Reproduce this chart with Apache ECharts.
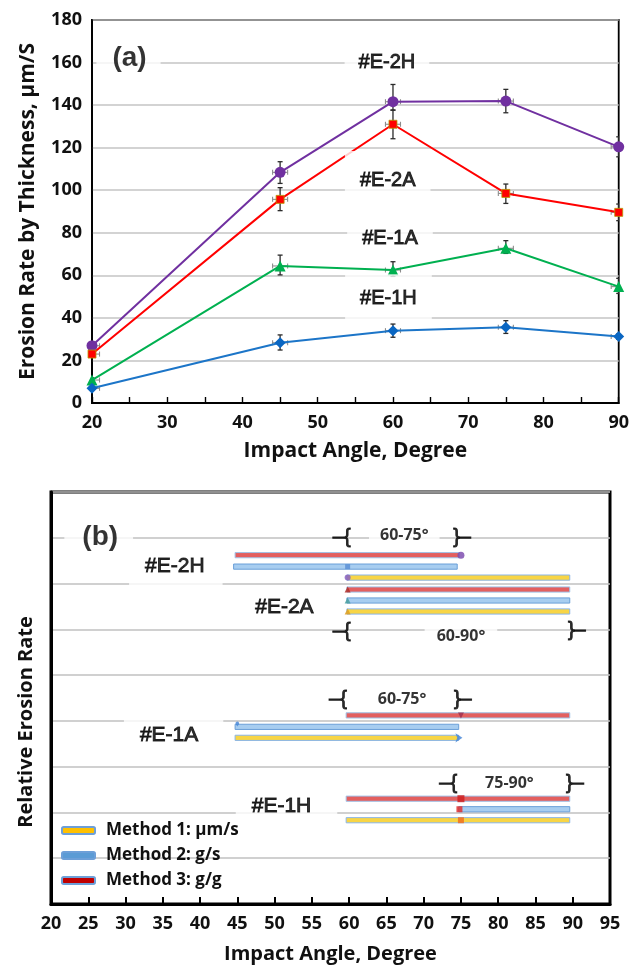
<!DOCTYPE html>
<html>
<head>
<meta charset="utf-8">
<script src="https://cdn.jsdelivr.net/npm/echarts@6/dist/echarts.min.js"></script>
<style>
    html, body { margin: 0; padding: 0; background: #fff; }
    #chart { width: 632px; height: 967px; }
</style>
</head>
<body>
<div id="chart"></div>
<script>
// (a) erosion rate by thickness, um/s
const angles = [20, 45, 60, 75, 90];
const e2h = [26.9, 108.4, 141.6, 141.9, 120.4];
const e2hLow = [25.5, 103.2, 137.6, 136.4, 115.7];
const e2hHigh = [28.3, 113.4, 149.7, 147.4, 125.1];
const e2a = [23.0, 95.7, 131.0, 98.5, 89.6];
const e2aLow = [21.8, 90.4, 124.2, 93.8, 85.7];
const e2aHigh = [24.2, 101.2, 137.7, 102.9, 93.5];
const e1a = [10.8, 64.4, 62.5, 72.7, 54.7];
const e1aLow = [9.8, 60.2, 59.5, 70.3, 51.5];
const e1aHigh = [11.8, 69.5, 66.4, 76.3, 58.6];
const e1h = [6.9, 28.3, 34.0, 35.6, 31.2];
const e1hLow = [6.0, 24.9, 30.9, 32.7, 29.9];
const e1hHigh = [7.8, 32.0, 37.1, 38.7, 32.5];
const angleErr = 1.0;

const labelsA = ['(a)', '#E-2H', '#E-2A', '#E-1A', '#E-1H'];
const labelsAPos = [[24.85, 162.1], [59.2, 159.8], [59.3, 104.8], [59.6, 77.5], [59.4, 49.2]];

// (b) relative erosion rate ranges: [from, to, row]
const method1 = [[59.7, 89.6, 7.13], [59.7, 89.6, 6.39], [44.7, 74.7, 3.63], [59.6, 89.6, 1.83]];
const method2 = [[44.5, 74.5, 7.37], [59.7, 89.6, 6.63], [44.7, 74.7, 3.87], [74.7, 89.6, 2.07]];
const method3 = [[44.7, 74.8, 7.62], [59.7, 89.6, 6.87], [59.6, 89.6, 4.12], [59.6, 89.6, 2.30]];
const methodNames = ['Method 1: μm/s', 'Method 2: g/s', 'Method 3: g/g'];
const markerPts = [[75, 7.62], [59.8, 7.37], [59.8, 7.13], [59.8, 6.87], [59.8, 6.63], [59.8, 6.39],
    [75, 4.12], [45, 3.87], [75.2, 3.63], [75, 2.30], [74.8, 2.07], [75, 1.83]];

const labelsB = ['(b)', '#E-2H', '#E-2A', '#E-1A', '#E-1H'];
const labelsBPos = [[26.4, 8.02], [36.75, 7.37], [51.85, 6.49], [36.45, 3.69], [51.6, 2.14]];
const rangeTexts = ['60-75°', '60-90°', '60-75°', '75-90°'];
const rangeTextPos = [[67.4, 8.06], [75.0, 5.84], [67.1, 4.46], [81.5, 2.64]];
const bracketL = [[59.0, 8.0], [59.0, 5.96], [58.5, 4.46], [73.3, 2.64]];
const bracketR = [[75.15, 8.0], [90.55, 5.98], [75.25, 4.46], [90.3, 2.64]];

const xTicksB = [20, 95, 5];
const yRowsB = [0, 9, 1];

const FONT = 'Open Sans';
const LABEL_FONT = 'Liberation Sans';

const labelsAPad = [[8, 14, 8, 16], [5, 14], [19, 15], [13, 15], [14, 15]];
const labelsBPad = [[8, 15, 8, 18], [8, 18, 8, 16], [15, 24, 4, 16], [6, 25, 6, 16], [4, 26, 4, 16]];
const rangePad = [[3, 11], [3, 12], [3, 8], [3, 8]];
const markerStyle = [
    ['circle', '#7f4fb0', 7, 0], ['rect', '#5b8fd6', 5, 0], ['circle', '#8a63c0', 6, 0],
    ['triangle', '#b0302a', 6, 0], ['triangle', '#4aa0a0', 6, 0], ['triangle', '#e0a020', 6, 0],
    ['triangle', '#a03050', 6, 180], ['pin', '#4a88d8', 6, 0], ['arrow', '#4a88d8', 7, -90],
    ['rect', '#d02020', 7, 0], ['rect', '#e03030', 6, 0], ['rect', '#f07020', 6, 0]
];

function pairs(ys) {
    return angles.map((a, i) => [a, ys[i]]);
}

function errData(ys, lo, hi) {
    return angles.map((a, i) => [a, ys[i], lo[i], hi[i]]);
}

function renderErr(params, api) {
    const x = api.value(0);
    const y = api.value(1);
    const top = api.coord([x, api.value(3)]);
    const bot = api.coord([x, api.value(2)]);
    const l = api.coord([x - angleErr, y]);
    const r = api.coord([x + angleErr, y]);
    const vs = { stroke: '#2b2b2b', lineWidth: 1.3 };
    const hs = { stroke: '#8c8c8c', lineWidth: 1.1 };
    return {
        type: 'group',
        children: [
            { type: 'line', shape: { x1: top[0], y1: top[1], x2: bot[0], y2: bot[1] }, style: vs },
            { type: 'line', shape: { x1: top[0] - 2.5, y1: top[1], x2: top[0] + 2.5, y2: top[1] }, style: vs },
            { type: 'line', shape: { x1: bot[0] - 2.5, y1: bot[1], x2: bot[0] + 2.5, y2: bot[1] }, style: vs },
            { type: 'line', shape: { x1: l[0], y1: l[1], x2: r[0], y2: r[1] }, style: hs },
            { type: 'line', shape: { x1: l[0], y1: l[1] - 2.5, x2: l[0], y2: l[1] + 2.5 }, style: hs },
            { type: 'line', shape: { x1: r[0], y1: r[1] - 2.5, x2: r[0], y2: r[1] + 2.5 }, style: hs }
        ]
    };
}

function barRenderer(fill, stroke) {
    return function (params, api) {
        const s = api.coord([api.value(0), api.value(2)]);
        const e = api.coord([api.value(1), api.value(2)]);
        return {
            type: 'rect',
            shape: { x: s[0], y: s[1] - 2.6, width: e[0] - s[0], height: 5.2 },
            style: { fill: fill, stroke: stroke, lineWidth: 1 }
        };
    };
}

function lineSeries(name, ys, color, symbol, size, extra) {
    return Object.assign({
        name: name,
        type: 'line',
        xAxisIndex: 0,
        yAxisIndex: 0,
        data: pairs(ys),
        symbol: symbol,
        symbolSize: size,
        z: 3,
        lineStyle: { color: color, width: 2 },
        itemStyle: { color: color },
        emphasis: { disabled: true }
    }, extra || {});
}

function errSeries(ys, lo, hi) {
    return {
        type: 'custom',
        xAxisIndex: 0,
        yAxisIndex: 0,
        data: errData(ys, lo, hi),
        renderItem: renderErr,
        clip: true,
        z: 2,
        silent: true
    };
}

function textSeries(xIdx, pts, texts, pads, font, size, weight, bg, z) {
    return {
        type: 'scatter',
        xAxisIndex: xIdx,
        yAxisIndex: xIdx,
        symbolSize: 1,
        itemStyle: { color: 'rgba(0,0,0,0)' },
        silent: true,
        z: z,
        data: pts.map((p, i) => {
            const paren = texts[i].charAt(0) === '(';
            return {
                value: p,
                name: texts[i],
                label: {
                    show: true,
                    position: 'inside',
                    formatter: '{b}',
                    color: '#000',
                    fontFamily: paren ? 'Liberation Sans' : font,
                    fontWeight: paren ? 'bold' : weight,
                    fontSize: paren ? 28 : size,
                    textBorderColor: '#000',
                    textBorderWidth: paren || font === FONT ? 0 : 0.9,
                    backgroundColor: bg,
                    padding: pads ? pads[i] : 0
                }
            };
        })
    };
}

const chart = echarts.init(document.getElementById('chart'), null, { renderer: 'canvas' });

const tickLabel = { color: '#111', fontFamily: FONT, fontWeight: 'bold', fontSize: 18 };
const axisName = { color: '#111', fontFamily: FONT, fontWeight: 'bold', fontSize: 21 };

const option = {
    animation: false,
    backgroundColor: '#fff',
    grid: [
        { left: 92, top: 20, width: 527, height: 383, show: true, borderColor: '#000', borderWidth: 1.8 },
        { left: 51, top: 492, width: 559, height: 412, show: true, borderColor: '#000', borderWidth: 3 }
    ],
    xAxis: [
        {
            type: 'value', gridIndex: 0, min: 20, max: 90, interval: 10,
            name: 'Impact Angle, Degree', nameLocation: 'middle', nameGap: 38, nameTextStyle: axisName,
            axisLine: { lineStyle: { color: '#000', width: 1.8 } },
            axisTick: { inside: true, length: 6, lineStyle: { color: '#000', width: 1.4 } },
            minorTick: { show: true, splitNumber: 2, length: 6, lineStyle: { color: '#000', width: 1.4 } },
            splitLine: { show: false },
            axisLabel: Object.assign({ margin: 11 }, tickLabel)
        },
        {
            type: 'value', gridIndex: 1, min: xTicksB[0], max: xTicksB[1], interval: xTicksB[2],
            name: 'Impact Angle, Degree', nameLocation: 'middle', nameGap: 40,
            nameTextStyle: Object.assign({}, axisName, { fontSize: 20 }),
            axisLine: { lineStyle: { color: '#000', width: 3 } },
            axisTick: { inside: true, length: 7, lineStyle: { color: '#000', width: 2 } },
            splitLine: { show: false },
            axisLabel: Object.assign({ margin: 11 }, tickLabel)
        }
    ],
    yAxis: [
        {
            type: 'value', gridIndex: 0, min: 0, max: 180, interval: 20,
            name: 'Erosion Rate by Thickness, μm/S', nameLocation: 'middle', nameGap: 53, nameTextStyle: axisName,
            axisLine: { show: true, lineStyle: { color: '#000', width: 1.8 } },
            axisTick: { show: false },
            splitLine: { show: true, lineStyle: { color: '#c4c4c4', width: 1.5 } },
            axisLabel: Object.assign({ margin: 10 }, tickLabel)
        },
        {
            type: 'value', gridIndex: 1, min: yRowsB[0], max: yRowsB[1], interval: yRowsB[2],
            axisLine: { show: true, lineStyle: { color: '#000', width: 3 } },
            axisTick: { show: false },
            axisLabel: { show: false },
            splitLine: { show: true, lineStyle: { color: '#c0c0c0', width: 1.5 } }
        }
    ],
    legend: {
        orient: 'vertical',
        left: 61,
        top: 822,
        padding: 0,
        itemWidth: 33,
        itemHeight: 7,
        itemGap: 8,
        icon: 'roundRect',
        data: methodNames,
        textStyle: { color: '#111', fontFamily: FONT, fontWeight: 'bold', fontSize: 17, padding: [0, 0, 0, 6] }
    },
    graphic: [
        {
            type: 'text', x: 26, y: 722, rotation: Math.PI / 2,
            style: {
                text: 'Relative Erosion Rate', fill: '#111', align: 'center', verticalAlign: 'middle',
                font: 'bold 20px "Open Sans"'
            }
        }
    ],
    series: [
        errSeries(e2h, e2hLow, e2hHigh),
        errSeries(e2a, e2aLow, e2aHigh),
        errSeries(e1a, e1aLow, e1aHigh),
        errSeries(e1h, e1hLow, e1hHigh),
        lineSeries('#E-2H', e2h, '#7030a0', 'circle', 11),
        lineSeries('#E-2A', e2a, '#ff0000', 'rect', 8, {
            itemStyle: { color: '#ff0000', borderColor: '#b89a00', borderWidth: 0.8 }
        }),
        lineSeries('#E-1A', e1a, '#00b050', 'triangle', 11),
        lineSeries('#E-1H', e1h, '#1c75c8', 'diamond', 11, { itemStyle: { color: '#0a66c2' } }),
        textSeries(0, labelsAPos, labelsA, labelsAPad, LABEL_FONT, 20, 'normal', '#fff', 4),

        textSeries(1, labelsBPos, labelsB, labelsBPad, LABEL_FONT, 21, 'normal', '#fff', 2),
        textSeries(1, rangeTextPos, rangeTexts, rangePad, FONT, 16, 'bold', '#fff', 2),
        textSeries(1, bracketL, bracketL.map(() => '‒{'), null, LABEL_FONT, 20, 'normal', null, 3),
        textSeries(1, bracketR, bracketR.map(() => '}‒'), null, LABEL_FONT, 20, 'normal', null, 3),
        {
            name: methodNames[0], type: 'custom', xAxisIndex: 1, yAxisIndex: 1, z: 3,
            itemStyle: { color: '#ffc000', borderColor: '#6d9fd8', borderWidth: 1 },
            renderItem: barRenderer('#f8d545', '#8ab5e6'), data: method1
        },
        {
            name: methodNames[1], type: 'custom', xAxisIndex: 1, yAxisIndex: 1, z: 3,
            itemStyle: { color: '#5b9bd5', borderColor: '#6d9fd8', borderWidth: 1 },
            renderItem: barRenderer('#a7cdf0', '#6a9fd8'), data: method2
        },
        {
            name: methodNames[2], type: 'custom', xAxisIndex: 1, yAxisIndex: 1, z: 3,
            itemStyle: { color: '#c00000', borderColor: '#6d9fd8', borderWidth: 1 },
            renderItem: barRenderer('#e35f5f', '#9fc2e8'), data: method3
        },
        {
            type: 'scatter', xAxisIndex: 1, yAxisIndex: 1, z: 4, silent: true,
            data: markerPts.map((p, i) => ({
                value: p,
                symbol: markerStyle[i][0],
                symbolSize: markerStyle[i][2],
                symbolRotate: markerStyle[i][3],
                itemStyle: { color: markerStyle[i][1], opacity: 0.85 }
            }))
        }
    ]
};

chart.setOption(option);
</script>
</body>
</html>
